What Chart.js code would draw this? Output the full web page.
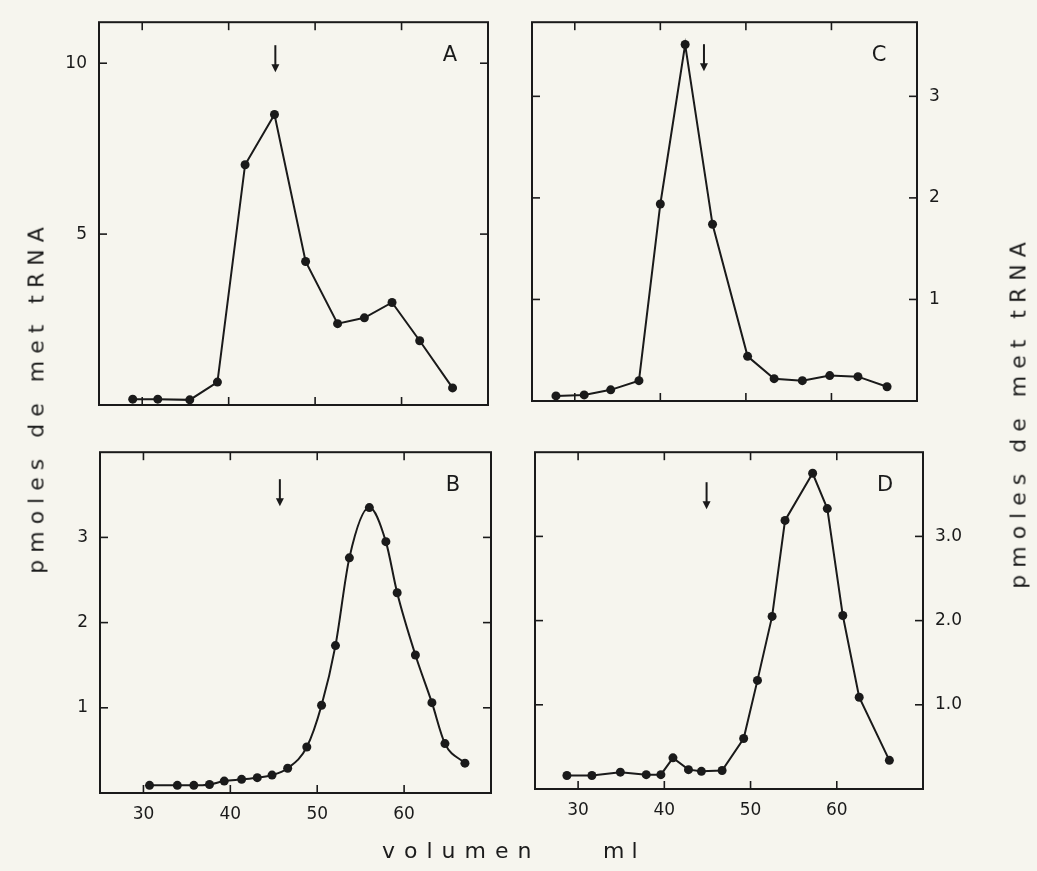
<!DOCTYPE html>
<html>
<head>
<meta charset="utf-8">
<script src="https://cdn.jsdelivr.net/npm/chart.js@4.4.1/dist/chart.umd.min.js"></script>
<style>
  body { margin: 0; width: 1037px; height: 871px; position: relative; overflow: hidden;
         background: #f6f5ee; font-family: 'DejaVu Sans', sans-serif; color: #1c1c1c; }
  canvas { position: absolute; }
  .label { position: absolute; font-size: 22px; letter-spacing: 7px; white-space: nowrap; }
  .vert { transform: translate(-50%, -50%) rotate(-90deg); }
</style>
</head>
<body>
<canvas id="chartA" width="490" height="430" style="left:30px;top:0px"></canvas>
<canvas id="chartB" width="490" height="441" style="left:30px;top:430px"></canvas>
<canvas id="chartC" width="517" height="430" style="left:520px;top:0px"></canvas>
<canvas id="chartD" width="517" height="441" style="left:520px;top:430px"></canvas>

<div class="label vert" style="left:36px;top:397px">pmoles de met tRNA</div>
<div class="label vert" style="left:1018px;top:412px">pmoles de met tRNA</div>
<div class="label" style="left:382px;top:838px;letter-spacing:9px">volumen</div>
<div class="label" style="left:603px;top:838px">ml</div>

<script>
// elution volume (ml) and pmoles of met-tRNA
const volA = [28.9, 31.8, 35.5, 38.7, 41.9, 45.3, 48.9, 52.6, 55.7, 58.9, 62.1, 65.9];
const pmolA = [0.17, 0.17, 0.15, 0.67, 7.03, 8.5, 4.2, 2.38, 2.55, 3.0, 1.88, 0.5];

const volB = [30.7, 33.9, 35.8, 37.6, 39.3, 41.3, 43.1, 44.8, 46.6, 48.8, 50.5, 52.1, 53.7, 56.0, 57.9, 59.2, 61.3, 63.2, 64.7, 67.0];
const pmolB = [0.09, 0.09, 0.09, 0.10, 0.14, 0.16, 0.18, 0.21, 0.29, 0.54, 1.03, 1.73, 2.76, 3.35, 2.95, 2.35, 1.62, 1.06, 0.58, 0.35];

const volC = [27.8, 31.1, 34.2, 37.5, 40.0, 42.9, 46.1, 50.2, 53.3, 56.6, 59.8, 63.1, 66.5];
const pmolC = [0.05, 0.06, 0.11, 0.20, 1.94, 3.51, 1.74, 0.44, 0.22, 0.20, 0.25, 0.24, 0.14];

const volD = [28.7, 31.6, 34.9, 37.9, 39.6, 41.0, 42.8, 44.3, 46.7, 49.2, 50.8, 52.5, 54.0, 57.2, 58.9, 60.7, 62.6, 66.1];
const pmolD = [0.16, 0.16, 0.20, 0.17, 0.17, 0.37, 0.23, 0.21, 0.22, 0.60, 1.29, 2.05, 3.19, 3.75, 3.33, 2.06, 1.09, 0.34];

// tick values
const volTicks = [30, 40, 50, 60];
const ticksA = [5, 10];
const ticksSmall = [1, 2, 3];

// arrow marker positions (ml)
const arrowA = 45.4, arrowB = 45.7, arrowC = 45.1, arrowD = 44.9;

const INK = '#1a1a1a';
const FONT = { family: 'DejaVu Sans', size: 17 };

// box around the plot, inward ticks on all four sides, arrow and panel letter
const frame = {
  id: 'frame',
  beforeDatasetsDraw(chart, args, opts) {
    const { ctx, chartArea: a, scales: { x, y } } = chart;
    const seg = (x1, y1, x2, y2) => { ctx.beginPath(); ctx.moveTo(x1, y1); ctx.lineTo(x2, y2); ctx.stroke(); };
    ctx.save();
    ctx.strokeStyle = INK;
    ctx.fillStyle = INK;
    ctx.lineWidth = 2;
    ctx.strokeRect(a.left, a.top, a.right - a.left, a.bottom - a.top);
    ctx.lineWidth = 1.6;
    volTicks.forEach(v => {
      const px = x.getPixelForValue(v);
      seg(px, a.top, px, a.top + 8);
      seg(px, a.bottom, px, a.bottom - 8);
    });
    opts.yTicks.forEach(v => {
      const py = y.getPixelForValue(v);
      seg(a.left, py, a.left + 8, py);
      seg(a.right, py, a.right - 8, py);
    });
    // arrow
    const ax = x.getPixelForValue(opts.arrow);
    const y0 = a.top + opts.arrowTop, y1 = y0 + 27;
    ctx.lineWidth = 2;
    seg(ax, y0, ax, y1 - 6);
    ctx.beginPath();
    ctx.moveTo(ax - 4, y1 - 8);
    ctx.lineTo(ax + 4, y1 - 8);
    ctx.lineTo(ax, y1);
    ctx.closePath();
    ctx.fill();
    // panel letter
    ctx.font = '21px "DejaVu Sans"';
    ctx.textAlign = 'center';
    ctx.textBaseline = 'middle';
    ctx.fillText(opts.letter, a.right - 38, a.top + 33);
    ctx.restore();
  }
};

function panel(id, p) {
  new Chart(document.getElementById(id), {
    type: 'line',
    data: {
      datasets: [{
        data: p.vol.map((v, i) => ({ x: v, y: p.pmol[i] })),
        borderColor: INK,
        borderWidth: 2,
        pointRadius: 4.5,
        pointBackgroundColor: INK,
        pointBorderWidth: 0,
        cubicInterpolationMode: p.smooth ? 'monotone' : 'default',
        tension: p.smooth ? 0.4 : 0
      }]
    },
    options: {
      responsive: false,
      animation: false,
      events: [],
      layout: { padding: p.pad },
      plugins: {
        legend: { display: false },
        tooltip: { enabled: false },
        frame: { yTicks: p.yTicks, arrow: p.arrow, arrowTop: p.arrowTop, letter: p.letter }
      },
      scales: {
        x: {
          type: 'linear', min: 25, max: 70,
          display: p.xLabels,
          grid: { display: false, drawTicks: false },
          border: { display: false },
          afterBuildTicks: s => { s.ticks = volTicks.map(v => ({ value: v })); },
          afterFit: s => { if (p.xLabels) s.height = 40; },
          ticks: { color: INK, font: FONT, padding: 11, maxRotation: 0 }
        },
        y: {
          type: 'linear', position: p.yPos, min: 0, max: p.yMax,
          grid: { display: false, drawTicks: false },
          border: { display: false },
          afterBuildTicks: s => { s.ticks = p.yTicks.map(v => ({ value: v })); },
          afterFit: s => { s.width = p.yWidth; },
          ticks: { color: INK, font: FONT, padding: 12, callback: p.yFmt || (v => v) }
        }
      }
    },
    plugins: [frame]
  });
}

panel('chartA', { vol: volA, pmol: pmolA, yMax: 11.2, yTicks: ticksA, yPos: 'left', yWidth: 69,
  pad: { left: 0, right: 32, top: 14, bottom: 25 }, xLabels: false, arrow: arrowA, arrowTop: 23, letter: 'A' });
panel('chartB', { vol: volB, pmol: pmolB, yMax: 4.0, yTicks: ticksSmall, yPos: 'left', yWidth: 70,
  pad: { left: 0, right: 29, top: 18, bottom: 38 }, xLabels: true, arrow: arrowB, arrowTop: 27, letter: 'B', smooth: true });
panel('chartC', { vol: volC, pmol: pmolC, yMax: 3.73, yTicks: ticksSmall, yPos: 'right', yWidth: 60,
  pad: { left: 12, right: 60, top: 13, bottom: 29 }, xLabels: false, arrow: arrowC, arrowTop: 22, letter: 'C' });
panel('chartD', { vol: volD, pmol: pmolD, yMax: 4.0, yTicks: ticksSmall, yPos: 'right', yWidth: 60,
  pad: { left: 15, right: 54, top: 13, bottom: 42 }, xLabels: true, arrow: arrowD, arrowTop: 30, letter: 'D',
  yFmt: v => v.toFixed(1) });
</script>
</body>
</html>
